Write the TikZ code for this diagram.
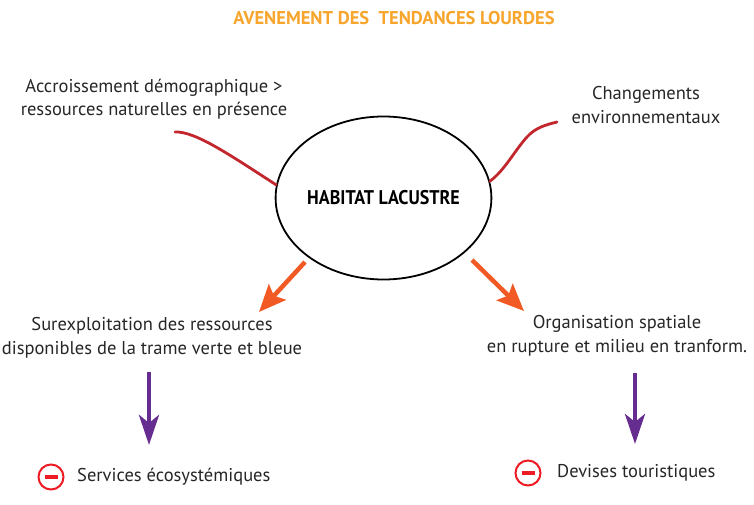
\documentclass[tikz,border=0pt]{standalone}
\usepackage{fontspec}
\setmainfont{PT Sans}
\usetikzlibrary{arrows.meta,shapes.geometric}
\definecolor{titleorange}{HTML}{F7A52C}
\definecolor{arroworange}{HTML}{F15A24}
\definecolor{curvered}{HTML}{C1272D}
\definecolor{minusred}{HTML}{ED1C24}
\definecolor{purplearrow}{HTML}{662D91}
\tikzset{
  lbl/.style={align=center, font=\fontsize{18.5}{23.5}\selectfont, inner sep=0pt, text=black!85},
  redcurve/.style={draw=curvered, line width=2.8pt, line cap=round},
  orangearrow/.style={draw=arroworange, line width=4.5pt, -{Stealth[length=27pt, width=23pt, inset=5pt]}},
  purplearr/.style={draw=purplearrow, line width=4.5pt, -{Stealth[length=30pt, width=20pt, inset=8pt]}},
  minuscircle/.style={circle, draw=minusred, line width=2pt, minimum size=25pt, inner sep=0pt},
}
\begin{document}
\begin{tikzpicture}[x=1pt, y=-1pt]
\useasboundingbox (0,0) rectangle (754,505);
% title
\node[font=\bfseries\fontsize{18.5}{20}\selectfont, text=titleorange, inner sep=0pt] (title) at (394,18) {AVENEMENT DES\ \ TENDANCES LOURDES};
% central ellipse
\node[ellipse, draw, line width=1.8pt, minimum width=208pt, minimum height=163pt, inner sep=0pt,
      font=\bfseries\fontsize{18}{20}\selectfont] (hab) at (383.5,198) {\scalebox{1}[1.1]{HABITAT LACUSTRE}};
% upper texts
\node[lbl] (acc) at (154,99) {Accroissement démographique >\\ressources naturelles en présence};
\node[lbl] (chg) at (646,105) {Changements\\environnementaux};
% middle texts
\node[lbl] (sur) at (152,338) {Surexploitation des ressources\\disponibles de la trame verte et bleue};
\node[lbl] (org) at (617,336) {Organisation spatiale\\en rupture et milieu en tranform.};
% bottom items
\node[minuscircle] (m1) at (51,477) {\color{minusred}\rule[-2pt]{13pt}{4pt}};
\node[lbl, anchor=west] (ser) at (77,477) {Services écosystémiques};
\node[minuscircle] (m2) at (528,473) {\color{minusred}\rule[-2pt]{13pt}{4pt}};
\node[lbl, anchor=west] (dev) at (557,473) {Devises touristiques};
% red curves
\coordinate (lc) at (175,132);
\coordinate (rc) at (557,122);
\draw[redcurve] (lc) .. controls (195,131) and (230,155) .. (hab.173);
\draw[redcurve] (hab.9) .. controls (505,170) and (515,150) .. (527,137) .. controls (535,128) and (545,125) .. (rc);
% orange arrows
\coordinate (oa1) at (305,262);
\coordinate (ob1) at (259,312);
\coordinate (oa2) at (472,260);
\coordinate (ob2) at (524,311);
\draw[orangearrow] (oa1) -- (ob1);
\draw[orangearrow] (oa2) -- (ob2);
% purple arrows
\coordinate (pa1) at (149,372);
\coordinate (pb1) at (149,445);
\coordinate (pa2) at (635,373);
\coordinate (pb2) at (635,444);
\draw[purplearr] (pa1) -- (pb1);
\draw[purplearr] (pa2) -- (pb2);
\end{tikzpicture}
\end{document}
